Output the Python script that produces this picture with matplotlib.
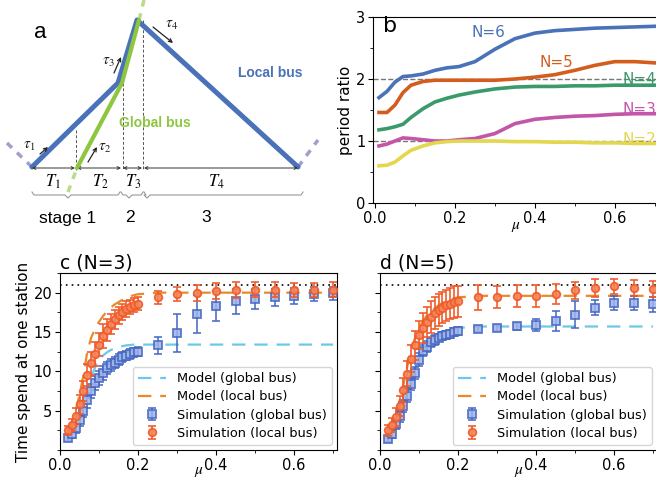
import matplotlib
matplotlib.use("Agg")
import matplotlib.pyplot as plt
from matplotlib.ticker import MultipleLocator

plt.rcParams['mathtext.fontset'] = 'stix'
plt.rcParams['font.family'] = ['DejaVu Sans']

# ---------------- data ----------------
# panel b
mu_b = [0.01, 0.03, 0.05, 0.07, 0.09, 0.12, 0.15, 0.18, 0.21, 0.25, 0.30, 0.35,
        0.40, 0.45, 0.50, 0.55, 0.60, 0.65, 0.70]
ratio_N6 = [1.70, 1.80, 1.95, 2.04, 2.05, 2.08, 2.14, 2.18, 2.20, 2.28, 2.48, 2.65,
            2.74, 2.78, 2.80, 2.82, 2.83, 2.84, 2.85]
ratio_N5 = [1.46, 1.46, 1.58, 1.78, 1.90, 1.96, 1.98, 1.98, 1.98, 1.98, 1.98, 2.00,
            2.03, 2.07, 2.14, 2.22, 2.28, 2.28, 2.26]
ratio_N4 = [1.18, 1.20, 1.23, 1.27, 1.38, 1.52, 1.63, 1.69, 1.74, 1.79, 1.84, 1.87,
            1.88, 1.88, 1.89, 1.89, 1.90, 1.90, 1.90]
ratio_N3 = [0.92, 0.95, 1.00, 1.05, 1.04, 1.02, 1.00, 1.00, 1.02, 1.04, 1.12, 1.28,
            1.35, 1.38, 1.40, 1.41, 1.43, 1.44, 1.44]
ratio_N2 = [0.60, 0.61, 0.66, 0.76, 0.85, 0.92, 0.97, 0.99, 1.00, 1.00, 1.00, 0.99,
            0.99, 0.98, 0.98, 0.97, 0.97, 0.96, 0.96]
b_labels = ["N=6", "N=5", "N=4", "N=3", "N=2"]

# panels c, d
mu = [0.02, 0.03, 0.04, 0.05, 0.06, 0.07, 0.08, 0.09, 0.10, 0.11, 0.12, 0.13, 0.14,
      0.15, 0.16, 0.17, 0.18, 0.19, 0.20, 0.25, 0.30, 0.35, 0.40, 0.45, 0.50, 0.55,
      0.60, 0.65, 0.70]

c_model_global = [1.5, 2.2, 3.2, 4.5, 6.0, 7.8, 9.3, 10.5, 11.4, 12.0, 12.4, 12.7, 12.9,
                  13.1, 13.2, 13.3, 13.35, 13.4, 13.4, 13.4, 13.4, 13.4, 13.4, 13.4, 13.4,
                  13.4, 13.4, 13.4, 13.4]
c_model_local = [2.5, 3.5, 5.0, 7.0, 9.5, 12.5, 14.3, 15.4, 16.3, 17.0, 17.6, 18.1, 18.5,
                 18.8, 19.1, 19.3, 19.5, 19.7, 19.8, 20.0, 20.0, 20.0, 20.0, 20.0, 20.0,
                 20.0, 20.0, 20.0, 20.0]
c_sim_global = [1.5, 2.0, 2.8, 3.8, 5.0, 6.3, 7.5, 8.5, 9.2, 9.8, 10.4, 10.8, 11.1, 11.5,
                11.8, 12.0, 12.2, 12.4, 12.5, 13.3, 14.9, 17.3, 18.3, 18.9, 19.2, 19.4,
                19.6, 19.8, 19.9]
c_err_global = [0.4, 0.5, 0.6, 0.7, 0.8, 0.9, 0.9, 0.9, 0.9, 0.9, 0.8, 0.8, 0.7, 0.7,
                0.6, 0.6, 0.6, 0.6, 0.6, 1.1, 2.4, 2.4, 1.9, 1.6, 1.3, 1.1, 1.0, 0.9, 0.8]
c_sim_local = [2.5, 3.2, 4.3, 5.8, 7.5, 9.5, 11.0, 12.2, 13.4, 14.5, 15.3, 16.0, 16.6,
               17.1, 17.5, 17.9, 18.2, 18.4, 18.6, 19.4, 19.8, 20.0, 20.2, 20.3, 20.4,
               20.4, 20.3, 20.3, 20.4]
c_err_local = [0.6, 0.8, 1.0, 1.2, 1.3, 1.4, 1.5, 1.5, 1.5, 1.5, 1.4, 1.3, 1.2, 1.1, 1.0,
               1.0, 0.9, 0.9, 0.8, 0.8, 0.9, 1.0, 1.0, 1.0, 0.9, 0.9, 0.9, 0.9, 0.9]

d_model_global = [1.3, 2.0, 3.0, 4.2, 5.6, 7.2, 8.8, 10.4, 11.8, 12.8, 13.5, 14.0, 14.4,
                  14.7, 14.9, 15.1, 15.3, 15.4, 15.5, 15.7, 15.7, 15.7, 15.7, 15.7, 15.7,
                  15.7, 15.7, 15.7, 15.7]
d_model_local = [2.2, 3.2, 4.5, 6.2, 8.3, 10.6, 12.7, 14.3, 15.5, 16.4, 17.1, 17.6, 18.0,
                 18.4, 18.7, 18.9, 19.1, 19.3, 19.4, 19.6, 19.6, 19.6, 19.6, 19.6, 19.6,
                 19.6, 19.6, 19.6, 19.6]
d_sim_global = [1.4, 2.0, 3.3, 4.3, 5.6, 6.9, 8.4, 9.8, 11.5, 12.6, 13.1, 13.7, 14.0, 14.3,
                14.5, 14.6, 14.8, 15.0, 15.1, 15.4, 15.5, 15.7, 15.9, 16.4, 17.2, 18.1,
                18.7, 18.7, 18.5]
d_err_global = [0.4, 0.5, 0.6, 0.7, 0.8, 0.8, 0.8, 0.8, 0.8, 0.7, 0.7, 0.6, 0.6, 0.5, 0.5,
                0.5, 0.5, 0.5, 0.5, 0.4, 0.4, 0.5, 0.75, 1.3, 1.7, 1.0, 0.9, 0.9, 0.9]
d_sim_local = [2.5, 3.2, 4.2, 5.6, 7.6, 9.7, 11.6, 13.3, 14.6, 15.5, 16.3, 16.9, 17.4, 17.8,
               18.1, 18.4, 18.6, 18.8, 18.9, 19.4, 19.5, 19.6, 19.6, 19.8, 20.3, 20.6,
               20.8, 20.6, 20.5]
d_err_local = [0.7, 0.9, 1.1, 1.3, 1.5, 1.6, 1.7, 1.8, 1.8, 1.9, 1.9, 2.0, 2.0, 2.0, 2.0,
               2.0, 2.0, 2.0, 2.0, 1.6, 1.4, 1.4, 1.4, 1.3, 1.1, 1.1, 1.0, 1.0, 1.0]

upper_bound = 21.0

# panel a diagram (pixel-like coordinates in the panel box)
local_x = [32, 118, 137, 298]
local_y = [167, 83, 20, 167]
global_x = [77, 122, 139]
global_y = [168, 83, 20]

# ---------------- figure ----------------
W, H = 656, 483
fig = plt.figure(figsize=(W / 100, H / 100), dpi=100)


def rect(l, t, r, b):
    return [l / W, 1 - b / H, (r - l) / W, (b - t) / H]


# ---------- panel a ----------
ax = fig.add_axes(rect(0, 0, 330, 240))
ax.set_xlim(0, 330)
ax.set_ylim(240, 0)
ax.axis('off')
blue_c = '#4a72b8'
green_c = '#8dc63f'
ext_c = '#a0a0cc'
ax.plot([7, 32], [143, 167], ls=(0, (2, 2)), color=ext_c, lw=2.5)
ax.plot([298, 318], [167, 140], ls=(0, (2, 2)), color=ext_c, lw=2.5)
ax.plot([68, 77], [192, 168], ls=(0, (2, 2)), color='#b8dc8a', lw=2.5)
ax.plot([139, 144], [20, 0], ls=(0, (2, 2)), color='#b8dc8a', lw=2.5)
ax.plot(local_x, local_y, color=blue_c, lw=3.6, solid_capstyle='round', zorder=3)
ax.plot(global_x, global_y, color=green_c, lw=3.0, solid_capstyle='round', zorder=4)
for xv, y0 in [(76, 130), (123, 83), (143, 20)]:
    ax.plot([xv, xv], [y0, 170], ls=(0, (3, 2)), color='#555555', lw=0.7)
for x0, x1 in [(32, 75), (77, 121), (123, 142), (144, 298)]:
    ax.annotate('', xy=(x0, 168), xytext=(x1, 168),
                arrowprops=dict(arrowstyle='<->', lw=0.7, color='#333333',
                                shrinkA=0, shrinkB=0, mutation_scale=5))
tfont = dict(family='Liberation Serif', fontsize=12, ha='center', va='center')
for lab, xv in [('$T_1$', 53), ('$T_2$', 100), ('$T_3$', 133), ('$T_4$', 216)]:
    ax.text(xv, 182, lab, **tfont)
for lab, (tx, ty), (a0, a1) in [
        ('$\\tau_1$', (29, 146), ((40, 154), (48, 147))),
        ('$\\tau_2$', (105, 148), ((88, 162), (97, 147))),
        ('$\\tau_3$', (108, 62), ((114, 73), (121, 57))),
        ('$\\tau_4$', (172, 25), ((153, 27), (173, 43)))]:
    ax.text(tx, ty, lab, fontsize=11, ha='center', va='center', color='#222222')
    ax.annotate('', xy=a1, xytext=a0,
                arrowprops=dict(arrowstyle='->', lw=0.9, color='#222222',
                                shrinkA=0, shrinkB=0, mutation_scale=6))


def brace(x0, x1, xm, y):
    ax.plot([x0, x0 + 2, xm - 3, xm, xm + 3, x1 - 2, x1],
            [y - 3, y, y, y + 3, y, y, y - 3], color='#999999', lw=0.8)


brace(32, 120, 68, 195)
brace(121, 143, 129, 195)
brace(144, 303, 147, 195)
ax.text(68, 219, 'stage 1', fontsize=12.5, ha='center', va='center', family='Liberation Sans')
ax.text(130, 218, '2', fontsize=12.5, ha='center', va='center', family='Liberation Sans')
ax.text(206, 218, '3', fontsize=12.5, ha='center', va='center', family='Liberation Sans')
ax.text(40, 33, 'a', fontsize=16, ha='center', va='center', family='Liberation Sans')
ax.text(270, 73, 'Local bus', fontsize=10, fontweight='bold', color=blue_c,
        ha='center', va='center', family='Liberation Sans')
ax.text(155, 123, 'Global bus', fontsize=10, fontweight='bold', color=green_c,
        ha='center', va='center', family='Liberation Sans')

# ---------- panel b ----------
axb = fig.add_axes(rect(373, 17, 658, 203))
b_colors = ['#4a72b8', '#d45d1e', '#3a9a6a', '#c356a8', '#e3d74e']
b_series = [ratio_N6, ratio_N5, ratio_N4, ratio_N3, ratio_N2]
for ys, col in zip(b_series, b_colors):
    axb.plot(mu_b, ys, color=col, lw=2.6)
axb.axhline(1, color='#777777', ls='--', lw=1, zorder=0)
axb.axhline(2, color='#777777', ls='--', lw=1, zorder=0)
label_pos = [(0.285, 2.75, 'center'), (0.455, 2.27, 'center'), (0.703, 2.0, 'right'),
             (0.703, 1.5, 'right'), (0.703, 1.02, 'right')]
for lab, col, (xp, yp, ha) in zip(b_labels, b_colors, label_pos):
    axb.text(xp, yp, lab, color=col, fontsize=11, ha=ha, va='center')
axb.set_xlim(-0.005, 0.708)
axb.set_ylim(0, 3)
axb.set_yticks([0, 1, 2, 3])
axb.yaxis.set_minor_locator(MultipleLocator(0.5))
axb.set_xticks([0.0, 0.2, 0.4, 0.6])
axb.xaxis.set_minor_locator(MultipleLocator(0.1))
axb.tick_params(labelsize=10.5, pad=2)
axb.set_ylabel('period ratio', fontsize=11, labelpad=2)
axb.set_xlabel('$\\mu$', fontsize=11, labelpad=-5)
axb.text(0.06, 0.95, 'b', transform=axb.transAxes, fontsize=16, ha='center', va='center')
axb.spines['right'].set_visible(False)

# ---------- panels c, d ----------
col_mg = '#6cc8e6'
col_ml = '#e8892a'
col_sg = '#4466c2'
col_sl = '#f05a28'


def panel(axp, mg, ml, sg, eg, sl, el, title, ylab):
    axp.axhline(upper_bound, color='black', ls=(0, (1, 2.5)), lw=1.2, zorder=1)
    axp.plot(mu, mg, ls=(0, (6, 4)), color=col_mg, lw=1.6, label='Model (global bus)', zorder=2)
    axp.plot(mu, ml, ls=(0, (6, 4)), color=col_ml, lw=1.6, label='Model (local bus)', zorder=2)
    axp.errorbar(mu, sg, yerr=eg, fmt='s', ms=6, mfc='#9fb3e8', mec=col_sg, mew=1.3,
                 ecolor=col_sg, elinewidth=1.3, capsize=3, color=col_sg, alpha=0.85,
                 label='Simulation (global bus)', zorder=3)
    axp.errorbar(mu, sl, yerr=el, fmt='o', ms=5.5, mfc='#f4855a', mec=col_sl, mew=1.3,
                 ecolor=col_sl, elinewidth=1.3, capsize=3, color=col_sl, alpha=0.9,
                 label='Simulation (local bus)', zorder=4)
    axp.set_xlim(0, 0.71)
    axp.set_ylim(0, 22.5)
    axp.set_yticks([5, 10, 15, 20])
    axp.yaxis.set_minor_locator(MultipleLocator(2.5))
    axp.set_xticks([0.0, 0.2, 0.4, 0.6])
    axp.xaxis.set_minor_locator(MultipleLocator(0.1))
    axp.tick_params(labelsize=10.5, pad=2)
    axp.set_xlabel('$\\mu$', fontsize=11, labelpad=-6)
    axp.set_title(title, loc='left', fontsize=13.5, pad=3)
    if ylab:
        axp.set_ylabel('Time spend at one station', fontsize=11, labelpad=2)
    else:
        axp.tick_params(axis='y', labelleft=False)
    axp.legend(loc='lower right', fontsize=9.3, handlelength=2.2, borderaxespad=0.4,
               labelspacing=0.4, edgecolor='#cccccc')


axc = fig.add_axes(rect(60, 273, 337, 450))
panel(axc, c_model_global, c_model_local, c_sim_global, c_err_global,
      c_sim_local, c_err_local, 'c (N=3)', True)
axd = fig.add_axes(rect(380, 273, 657, 450))
panel(axd, d_model_global, d_model_local, d_sim_global, d_err_global,
      d_sim_local, d_err_local, 'd (N=5)', False)

fig.savefig('out.png', dpi=100)
